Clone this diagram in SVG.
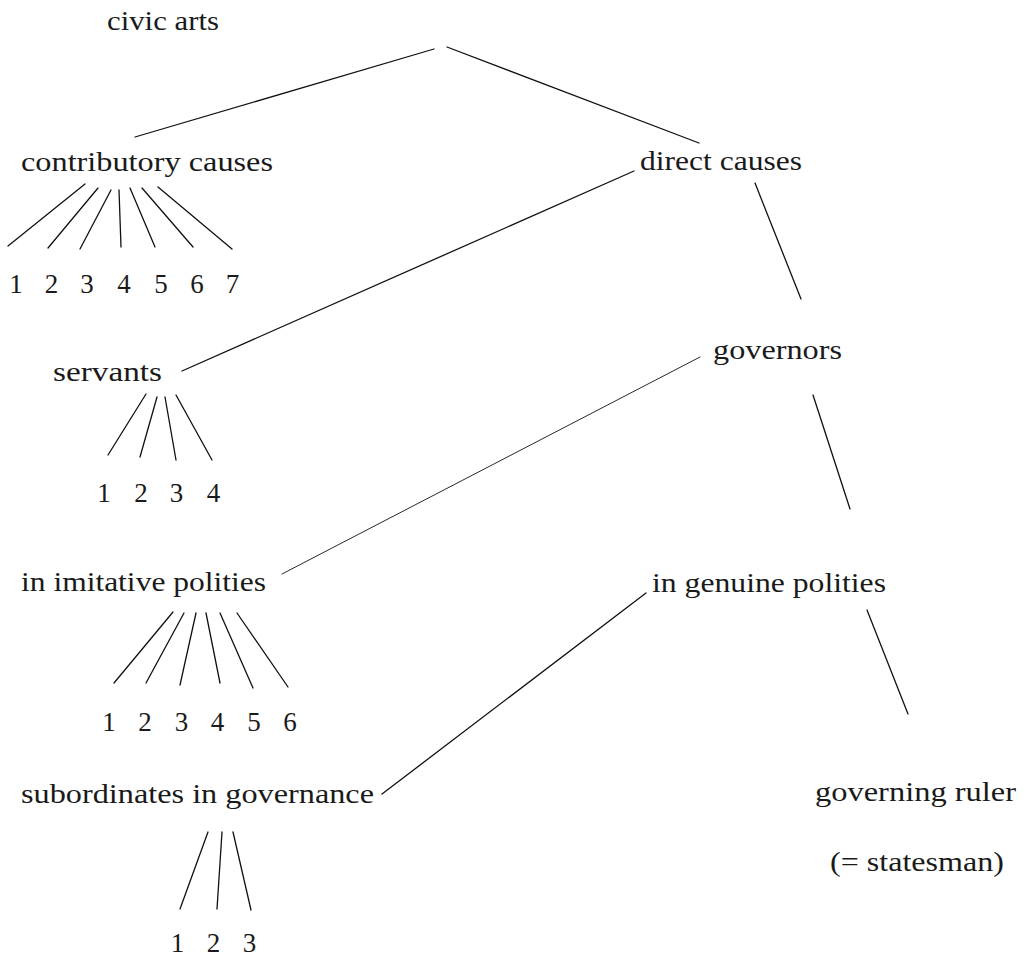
<svg xmlns="http://www.w3.org/2000/svg" width="1025" height="957" viewBox="0 0 1025 957">
<style>
text{font-family:"Liberation Serif","Times New Roman",serif;font-size:27px;fill:#1a1a1a}
.num{text-anchor:middle}
#connectors line{stroke:#111;stroke-width:1.3;stroke-linecap:round}
#connectors line.thin{stroke-width:0.9}
</style>
<rect width="1025" height="957" fill="#fff"/>
<g id="connectors">
<line x1="434" y1="49" x2="135" y2="137"/>
<line x1="447" y1="47" x2="699" y2="143"/>
<line x1="85" y1="184" x2="8" y2="246"/>
<line x1="98" y1="188" x2="48" y2="248"/>
<line x1="111" y1="190" x2="80" y2="249"/>
<line x1="119" y1="190" x2="121" y2="247"/>
<line x1="130" y1="188" x2="155" y2="247"/>
<line x1="142" y1="188" x2="193" y2="247"/>
<line x1="158" y1="187" x2="232" y2="249"/>
<line x1="634" y1="171" x2="182" y2="371"/>
<line x1="755" y1="183" x2="801" y2="299"/>
<line x1="146" y1="394" x2="108" y2="455"/>
<line x1="157" y1="397" x2="140" y2="457"/>
<line x1="165" y1="397" x2="176" y2="460"/>
<line x1="176" y1="395" x2="212" y2="460"/>
<line class="thin" x1="700" y1="357" x2="282" y2="574"/>
<line x1="813" y1="395" x2="850" y2="509"/>
<line x1="173" y1="612" x2="114" y2="683"/>
<line x1="184" y1="613" x2="146" y2="683"/>
<line x1="196" y1="613" x2="180" y2="685"/>
<line x1="206" y1="613" x2="220" y2="683"/>
<line x1="220" y1="613" x2="253" y2="688"/>
<line x1="237" y1="613" x2="288" y2="687"/>
<line x1="646" y1="593" x2="382" y2="794"/>
<line x1="867" y1="610" x2="908" y2="714"/>
<line x1="208" y1="832" x2="180" y2="909"/>
<line x1="222" y1="832" x2="217" y2="909"/>
<line x1="233" y1="832" x2="251" y2="910"/>
</g>
<g id="civic-arts"><text x="107" y="30" textLength="112" lengthAdjust="spacingAndGlyphs">civic arts</text></g>
<g id="contributory-causes"><text x="21" y="171" textLength="252" lengthAdjust="spacingAndGlyphs">contributory causes</text></g>
<g id="direct-causes"><text x="640" y="170" textLength="162" lengthAdjust="spacingAndGlyphs">direct causes</text></g>
<g id="cc-1"><text class="num" x="16" y="293">1</text></g>
<g id="cc-2"><text class="num" x="51.5" y="293">2</text></g>
<g id="cc-3"><text class="num" x="87" y="293">3</text></g>
<g id="cc-4"><text class="num" x="124" y="293">4</text></g>
<g id="cc-5"><text class="num" x="161" y="293">5</text></g>
<g id="cc-6"><text class="num" x="197" y="293">6</text></g>
<g id="cc-7"><text class="num" x="232.5" y="293">7</text></g>
<g id="servants"><text x="53" y="381" textLength="109" lengthAdjust="spacingAndGlyphs">servants</text></g>
<g id="governors"><text x="713" y="359" textLength="129" lengthAdjust="spacingAndGlyphs">governors</text></g>
<g id="sv-1"><text class="num" x="104" y="502">1</text></g>
<g id="sv-2"><text class="num" x="141" y="502">2</text></g>
<g id="sv-3"><text class="num" x="176.5" y="502">3</text></g>
<g id="sv-4"><text class="num" x="213.5" y="502">4</text></g>
<g id="imitative"><text x="21" y="591" textLength="245" lengthAdjust="spacingAndGlyphs">in imitative polities</text></g>
<g id="genuine"><text x="652" y="592" textLength="234" lengthAdjust="spacingAndGlyphs">in genuine polities</text></g>
<g id="im-1"><text class="num" x="109" y="731">1</text></g>
<g id="im-2"><text class="num" x="145" y="731">2</text></g>
<g id="im-3"><text class="num" x="181.5" y="731">3</text></g>
<g id="im-4"><text class="num" x="217.5" y="731">4</text></g>
<g id="im-5"><text class="num" x="254" y="731">5</text></g>
<g id="im-6"><text class="num" x="290" y="731">6</text></g>
<g id="subordinates"><text x="21" y="803" textLength="353" lengthAdjust="spacingAndGlyphs">subordinates in governance</text></g>
<g id="governing-ruler"><text x="815" y="801" textLength="201" lengthAdjust="spacingAndGlyphs">governing ruler</text><text x="830" y="871" textLength="174" lengthAdjust="spacingAndGlyphs">(= statesman)</text></g>
<g id="sb-1"><text class="num" x="177.5" y="952">1</text></g>
<g id="sb-2"><text class="num" x="213.5" y="952">2</text></g>
<g id="sb-3"><text class="num" x="249.5" y="952">3</text></g>
</svg>
